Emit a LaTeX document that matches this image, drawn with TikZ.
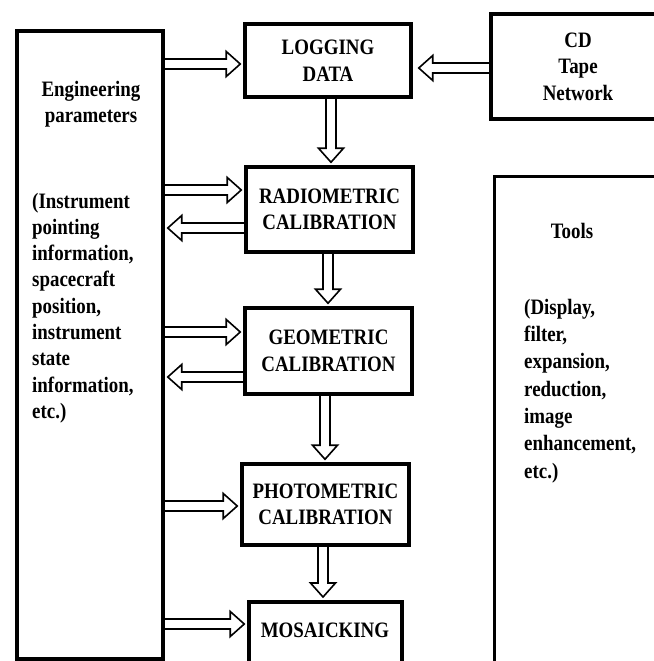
\documentclass[tikz,border=0pt]{standalone}
\usepackage{fontspec}
\setmainfont{Liberation Serif}[FakeStretch=0.86]
\usetikzlibrary{calc}
\begin{document}
\begin{tikzpicture}[x=1pt,y=-1pt,
  box/.style={draw, line width=3.5pt, inner sep=0pt, align=center, font=\bfseries\fontsize{22}{26.5}\selectfont},
  txt/.style={inner sep=0pt, font=\bfseries\fontsize{22}{26.3}\selectfont},
  arr/.style={line width=1.6pt, line join=miter, to path={let \p1=(\tikztostart), \p2=(\tikztotarget), \p3=($(\p2)!14pt!(\p1)$) in ($(\p1)!5pt!90:(\p2)$) -- ($(\p3)!5pt!90:(\p2)$) -- ($(\p3)!12.5pt!90:(\p2)$) -- (\p2) -- ($(\p3)!12.5pt!-90:(\p2)$) -- ($(\p3)!5pt!-90:(\p2)$) -- ($(\p1)!5pt!-90:(\p2)$)}}
]
\useasboundingbox (0,0) rectangle (653,661);

% boxes
\node[box, minimum width=146, minimum height=628] (eng) at (90,345) {};
\node[box, minimum width=166, minimum height=73] (log) at (328,60.5) {LOGGING\\DATA};
\node[box, minimum width=174, minimum height=105] (cd) at (578,66.5) {CD\\Tape\\Network};
\node[box, minimum width=167, minimum height=85] (rad) at (329.5,209.5) {RADIOMETRIC\\CALIBRATION};
\node[box, minimum width=167, minimum height=86] (geo) at (328.5,351) {GEOMETRIC\\CALIBRATION};
\node[box, minimum width=167, minimum height=81] (pho) at (325.5,504.5) {PHOTOMETRIC\\CALIBRATION};
\node[box, minimum width=153, minimum height=100, anchor=north] (mos) at (325.5,600) {};
\node[box, line width=3pt, minimum width=200, minimum height=520, anchor=north west] (tools) at (493,175) {};

% texts
\node[txt, align=center] (engh) at (91,104) {Engineering\\parameters};
\node[txt, align=left, anchor=west] (engl) at (32,308) {(Instrument\\pointing\\information,\\spacecraft\\position,\\instrument\\state\\information,\\etc.)};
\node[txt] (most) at (325,630) {MOSAICKING};
\node[txt] (toolsh) at (572,231) {Tools};
\node[txt, align=left, anchor=west, font=\bfseries\fontsize{22}{27.3}\selectfont] (toolsl) at (524,391) {(Display,\\filter,\\expansion,\\reduction,\\image\\enhancement,\\etc.)};

% arrows
\draw[arr] (eng.east |- 0,64) to ($(log.west |- 0,64)+(-3,0)$);
\draw[arr] (cd.west |- 0,68) to ($(log.east |- 0,68)+(6,0)$);
\draw[arr] (log.south -| 331,0) to ($(rad.north -| 331,0)+(0,-3)$);
\draw[arr] (eng.east |- 0,190) to ($(rad.west |- 0,190)+(-3,0)$);
\draw[arr] (rad.west |- 0,228) to ($(eng.east |- 0,228)+(3,0)$);
\draw[arr] (rad.south -| 328,0) to ($(geo.north -| 328,0)+(0,-3)$);
\draw[arr] (eng.east |- 0,332) to ($(geo.west |- 0,332)+(-3,0)$);
\draw[arr] (geo.west |- 0,377) to ($(eng.east |- 0,377)+(3,0)$);
\draw[arr] (geo.south -| 325,0) to ($(pho.north -| 325,0)+(0,-3)$);
\draw[arr] (eng.east |- 0,506) to ($(pho.west |- 0,506)+(-3,0)$);
\draw[arr] (pho.south -| 323,0) to ($(mos.north -| 323,0)+(0,-3)$);
\draw[arr] (eng.east |- 0,624) to ($(mos.west |- 0,624)+(-3,0)$);
\end{tikzpicture}
\end{document}
